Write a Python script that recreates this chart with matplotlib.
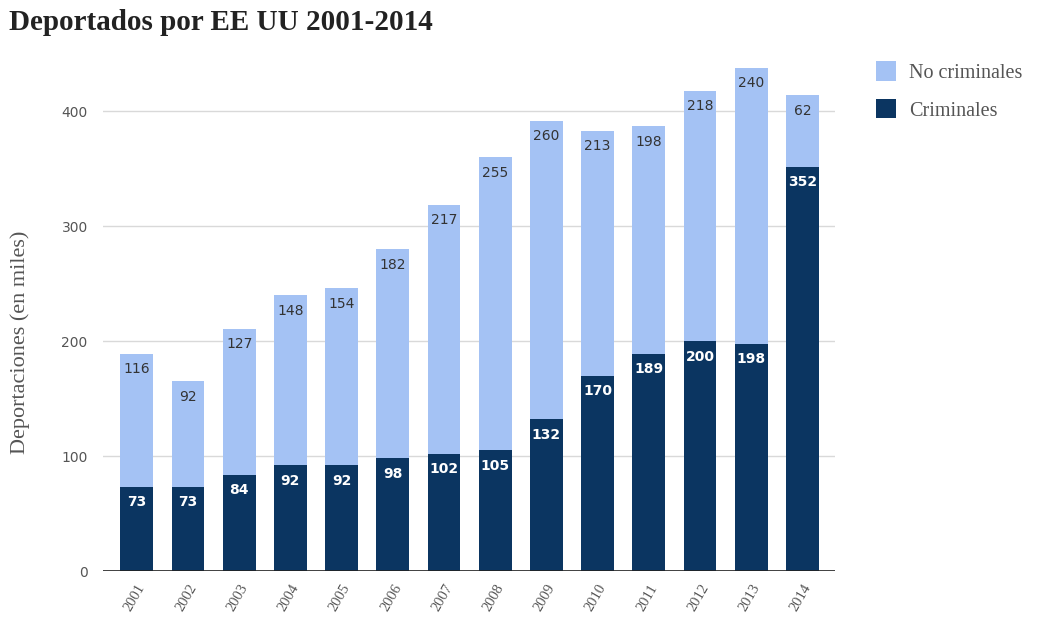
import matplotlib.pyplot as plt
import numpy as np

anios = ['2001', '2002', '2003', '2004', '2005', '2006', '2007',
         '2008', '2009', '2010', '2011', '2012', '2013', '2014']
criminales = [73, 73, 84, 92, 92, 98, 102, 105, 132, 170, 189, 200, 198, 352]
no_criminales = [116, 92, 127, 148, 154, 182, 217, 255, 260, 213, 198, 218, 240, 62]

color_oscuro = '#0b3561'
color_claro = '#a4c2f4'
gris = '#555555'
serif = 'Liberation Serif'

fig = plt.figure(figsize=(10.38, 6.19), dpi=100)
ax = fig.add_axes([0.0992, 0.0775, 0.705, 0.826])

x = np.arange(len(anios))
b1 = ax.bar(x, criminales, width=0.64, color=color_oscuro, label='Criminales', zorder=3)
b2 = ax.bar(x, no_criminales, width=0.64, bottom=criminales, color=color_claro,
            label='No criminales', zorder=3)

for i in range(len(anios)):
    ax.annotate(str(criminales[i]), (x[i], criminales[i]), xytext=(0, -11),
                textcoords='offset points', ha='center', va='center',
                color='white', fontsize=10, fontweight='bold', family='DejaVu Sans',
                zorder=4)
    ax.annotate(str(no_criminales[i]), (x[i], criminales[i] + no_criminales[i]),
                xytext=(0, -11), textcoords='offset points', ha='center', va='center',
                color='#333333', fontsize=10, family='DejaVu Sans', zorder=4)

ax.set_xlim(-0.66, 13.63)
ax.set_ylim(0, 445)
ax.set_yticks([0, 100, 200, 300, 400])
ax.grid(axis='y', color='#d9d9d9', linewidth=1, zorder=0)
ax.axhline(0, color='#222222', linewidth=1.2, zorder=5)
for s in ax.spines.values():
    s.set_visible(False)
ax.tick_params(length=0)
ax.set_xticks(x)
ax.set_xticklabels(anios, rotation=60, ha='right', rotation_mode='anchor',
                   family=serif, color=gris, fontsize=10.5)
for t in ax.get_yticklabels():
    t.set_family('DejaVu Sans')
    t.set_color(gris)
    t.set_fontsize(10)
ax.tick_params(axis='y', pad=11)
ax.tick_params(axis='x', pad=8)

ax.set_ylabel('Deportaciones (en miles)', family=serif, color=gris, fontsize=16)
ax.yaxis.set_label_coords(-0.1, 0.448)

fig.text(0.009, 0.963, 'Deportados por EE UU 2001-2014', family=serif, fontweight='bold',
         fontsize=21, color='#222222', va='center')

leg = fig.legend(handles=[b2, b1], loc='upper left', bbox_to_anchor=(0.826, 0.93),
                 frameon=False, prop={'family': serif, 'size': 14.5}, handlelength=1.0,
                 handleheight=1.1, labelspacing=0.8, handletextpad=0.65)
for t in leg.get_texts():
    t.set_color(gris)

fig.savefig('out.png', dpi=100)
